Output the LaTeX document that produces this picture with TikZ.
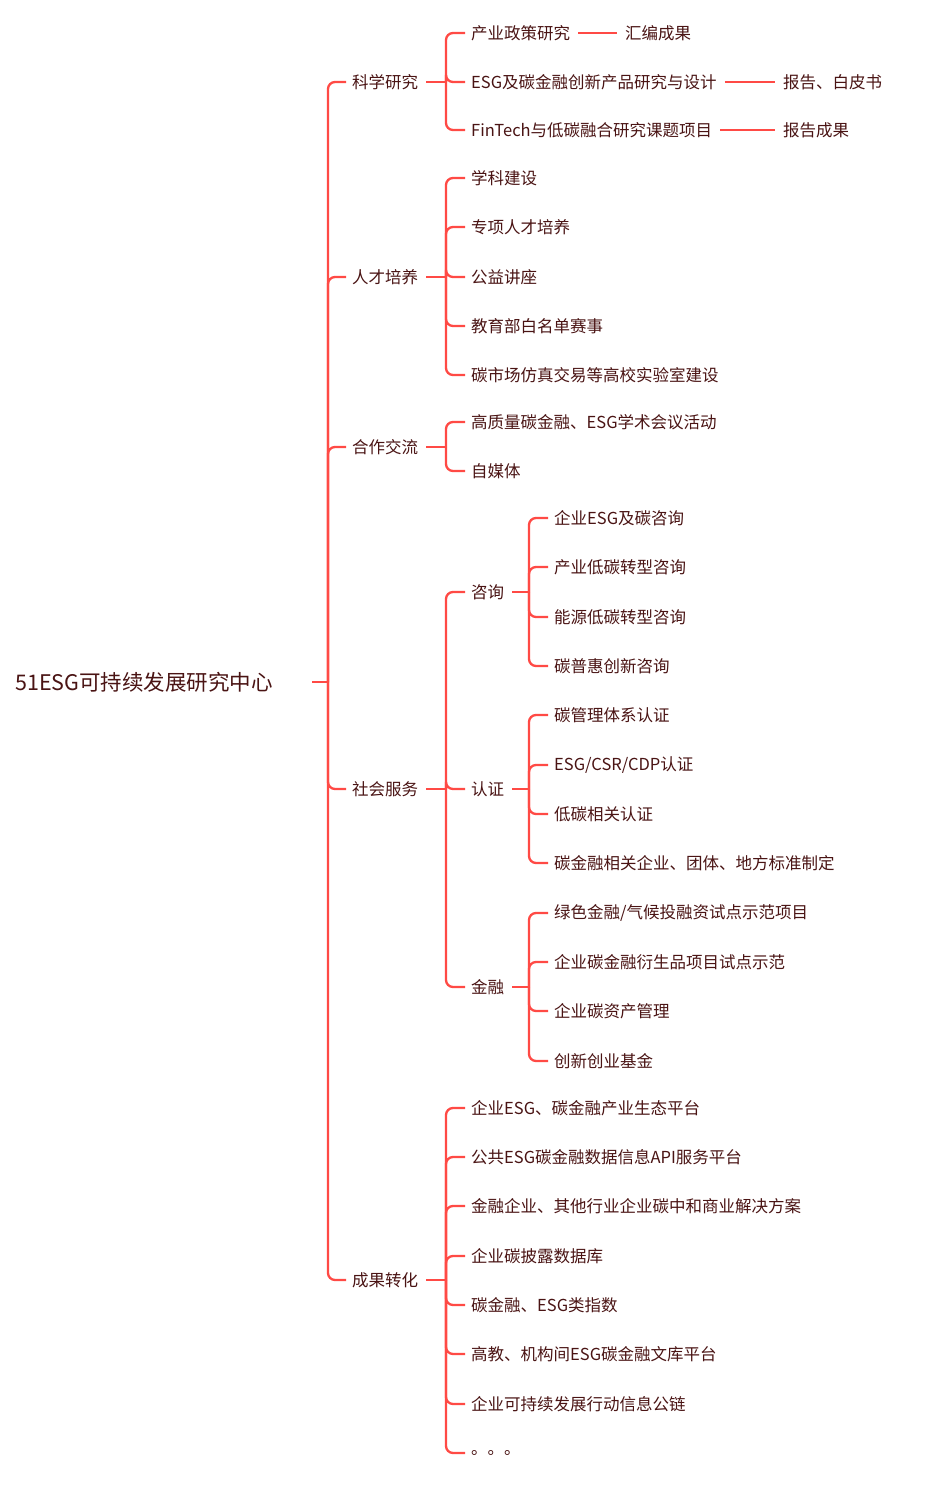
\documentclass[tikz,border=0pt]{standalone}
\usepackage{fontspec}
\setmainfont{Noto Sans CJK SC}
\definecolor{lred}{HTML}{FF4A45}
\definecolor{txt}{HTML}{4A1414}
\newcommand\ch[5]{\node[t] (#3) at ({#1+25},#4) {#5};
  \draw[ln] (#1,#2) |- ([xshift=-6pt]#3.west);}
\newcommand\pc[3]{\draw[ln] ([xshift=8pt]#1.east) -- (#2,#3);}
\begin{document}
\begin{tikzpicture}[x=1pt,y=-1pt,
  t/.style={anchor=west,inner sep=0pt,font=\fontsize{16.5}{17}\selectfont,text=txt},
  ln/.style={draw=lred,line width=2.3pt,rounded corners=7pt}]
\useasboundingbox[fill=white] (0,0) rectangle (943,1487);
\node[t,font=\fontsize{21.5}{22}\selectfont] (root) at (15,682) {51ESG可持续发展研究中心};
\draw[ln] (312,682) -- (328,682);
\foreach \n/\y/\s in {a/82/科学研究,b/277/人才培养,c/447/合作交流,d/789/社会服务,e/1280/成果转化}{
  \node[t] (\n) at (352,\y) {\s};
  \draw[ln] (328,682) |- ([xshift=-6pt]\n.west);
}
% 科学研究
\pc{a}{446}{82}
\ch{446}{82}{a1}{33}{产业政策研究}
\ch{446}{82}{a2}{82}{ESG及碳金融创新产品研究与设计}
\ch{446}{82}{a3}{130}{FinTech与低碳融合研究课题项目}
\node[t] (a1x) at (625,33) {汇编成果};
\node[t] (a2x) at (783,82) {报告、白皮书};
\node[t] (a3x) at (783,130) {报告成果};
\draw[ln] ([xshift=8pt]a1.east) -- ([xshift=-8pt]a1x.west);
\draw[ln] ([xshift=8pt]a2.east) -- ([xshift=-8pt]a2x.west);
\draw[ln] ([xshift=8pt]a3.east) -- ([xshift=-8pt]a3x.west);
% 人才培养
\pc{b}{446}{277}
\ch{446}{277}{b1}{178}{学科建设}
\ch{446}{277}{b2}{227}{专项人才培养}
\ch{446}{277}{b3}{277}{公益讲座}
\ch{446}{277}{b4}{326}{教育部白名单赛事}
\ch{446}{277}{b5}{375}{碳市场仿真交易等高校实验室建设}
% 合作交流
\pc{c}{446}{447}
\ch{446}{447}{c1}{422}{高质量碳金融、ESG学术会议活动}
\ch{446}{447}{c2}{471}{自媒体}
% 社会服务
\pc{d}{446}{789}
\ch{446}{789}{d1}{592}{咨询}
\ch{446}{789}{d2}{789}{认证}
\ch{446}{789}{d3}{987}{金融}
\pc{d1}{529}{592}
\ch{529}{592}{d11}{518}{企业ESG及碳咨询}
\ch{529}{592}{d12}{567}{产业低碳转型咨询}
\ch{529}{592}{d13}{617}{能源低碳转型咨询}
\ch{529}{592}{d14}{666}{碳普惠创新咨询}
\pc{d2}{529}{789}
\ch{529}{789}{d21}{715}{碳管理体系认证}
\ch{529}{789}{d22}{765}{ESG/CSR/CDP认证}
\ch{529}{789}{d23}{814}{低碳相关认证}
\ch{529}{789}{d24}{863}{碳金融相关企业、团体、地方标准制定}
\pc{d3}{529}{987}
\ch{529}{987}{d31}{913}{绿色金融/气候投融资试点示范项目}
\ch{529}{987}{d32}{962}{企业碳金融衍生品项目试点示范}
\ch{529}{987}{d33}{1011}{企业碳资产管理}
\ch{529}{987}{d34}{1061}{创新创业基金}
% 成果转化
\pc{e}{446}{1280}
\ch{446}{1280}{e1}{1108}{企业ESG、碳金融产业生态平台}
\ch{446}{1280}{e2}{1157}{公共ESG碳金融数据信息API服务平台}
\ch{446}{1280}{e3}{1206}{金融企业、其他行业企业碳中和商业解决方案}
\ch{446}{1280}{e4}{1256}{企业碳披露数据库}
\ch{446}{1280}{e5}{1305}{碳金融、ESG类指数}
\ch{446}{1280}{e6}{1354}{高教、机构间ESG碳金融文库平台}
\ch{446}{1280}{e7}{1404}{企业可持续发展行动信息公链}
\ch{446}{1280}{e8}{1453}{。。。}
\end{tikzpicture}
\end{document}
